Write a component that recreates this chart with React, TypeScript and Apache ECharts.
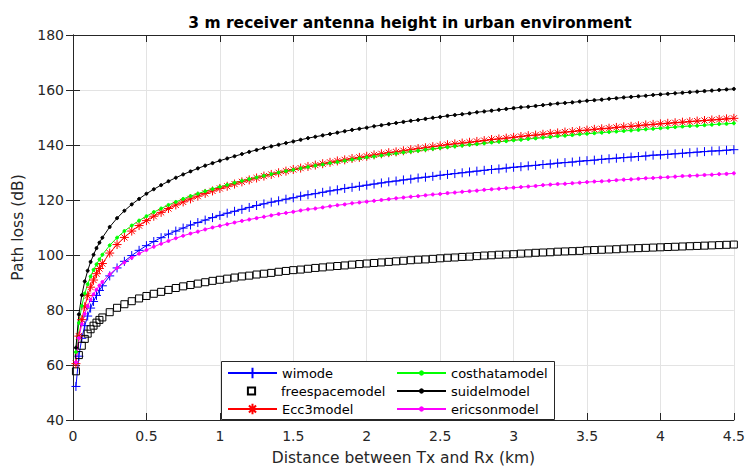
import React, { useEffect, useRef } from "react";
import * as echarts from "echarts";

const distanceKm = [0.02, 0.04, 0.06, 0.08, 0.1, 0.12, 0.14, 0.16, 0.18, 0.2, 0.25, 0.3, 0.35, 0.4, 0.45,
  0.5, 0.55, 0.6, 0.65, 0.7, 0.75, 0.8, 0.85, 0.9, 0.95, 1.0,
  1.05, 1.1, 1.15, 1.2, 1.25, 1.3, 1.35, 1.4, 1.45, 1.5,
  1.55, 1.6, 1.65, 1.7, 1.75, 1.8, 1.85, 1.9, 1.95, 2.0,
  2.05, 2.1, 2.15, 2.2, 2.25, 2.3, 2.35, 2.4, 2.45, 2.5,
  2.55, 2.6, 2.65, 2.7, 2.75, 2.8, 2.85, 2.9, 2.95, 3.0,
  3.05, 3.1, 3.15, 3.2, 3.25, 3.3, 3.35, 3.4, 3.45, 3.5,
  3.55, 3.6, 3.65, 3.7, 3.75, 3.8, 3.85, 3.9, 3.95, 4.0,
  4.05, 4.1, 4.15, 4.2, 4.25, 4.3, 4.35, 4.4, 4.45, 4.5];

const wimode = [52.2, 63.2, 69.7, 74.3, 77.8, 80.7, 83.1, 85.3, 87.1, 88.8, 92.4, 95.3, 97.7, 99.8, 101.7,
  103.4, 104.9, 106.3, 107.6, 108.7, 109.8, 110.9, 111.8, 112.7, 113.6, 114.4,
  115.2, 115.9, 116.6, 117.3, 118.0, 118.6, 119.2, 119.7, 120.3, 120.8,
  121.4, 121.9, 122.3, 122.8, 123.3, 123.7, 124.2, 124.6, 125.0, 125.4,
  125.8, 126.2, 126.6, 126.9, 127.3, 127.6, 128.0, 128.3, 128.6, 129.0,
  129.3, 129.6, 129.9, 130.2, 130.5, 130.8, 131.1, 131.3, 131.6, 131.9,
  132.1, 132.4, 132.6, 132.9, 133.1, 133.4, 133.6, 133.8, 134.1, 134.3,
  134.5, 134.8, 135.0, 135.2, 135.4, 135.6, 135.8, 136.0, 136.3, 136.4,
  136.6, 136.8, 137.0, 137.2, 137.4, 137.6, 137.8, 137.9, 138.1, 138.3];

const freespacemodel = [57.7, 63.6, 67.0, 69.5, 71.4, 73.0, 74.3, 75.4, 76.4, 77.3, 79.2, 80.8, 82.1, 83.2, 84.2,
  85.1, 85.9, 86.6, 87.3, 88.0, 88.6, 89.1, 89.6, 90.1, 90.6, 91.0,
  91.4, 91.8, 92.2, 92.5, 92.9, 93.2, 93.5, 93.9, 94.2, 94.5,
  94.7, 95.0, 95.3, 95.5, 95.8, 96.0, 96.2, 96.5, 96.7, 96.9,
  97.1, 97.3, 97.5, 97.7, 97.9, 98.1, 98.3, 98.4, 98.6, 98.8,
  99.0, 99.1, 99.3, 99.4, 99.6, 99.8, 99.9, 100.1, 100.2, 100.3,
  100.5, 100.6, 100.8, 100.9, 101.0, 101.2, 101.3, 101.4, 101.5, 101.7,
  101.8, 101.9, 102.0, 102.1, 102.3, 102.4, 102.5, 102.6, 102.7, 102.8,
  102.9, 103.0, 103.1, 103.2, 103.3, 103.4, 103.5, 103.6, 103.7, 103.8];

const ecc3model = [60.5, 70.5, 76.5, 81.2, 85.2, 88.3, 90.9, 93.2, 95.1, 96.9, 100.7, 103.8, 106.4, 108.7, 110.7,
  112.5, 114.1, 115.5, 116.9, 118.2, 119.3, 120.4, 121.4, 122.4, 123.3, 124.2,
  125.0, 125.8, 126.6, 127.3, 128.0, 128.7, 129.3, 129.9, 130.5, 131.1,
  131.6, 132.2, 132.7, 133.2, 133.7, 134.2, 134.6, 135.1, 135.5, 135.9,
  136.4, 136.8, 137.2, 137.5, 137.9, 138.3, 138.7, 139.0, 139.4, 139.7,
  140.1, 140.4, 140.7, 141.0, 141.3, 141.6, 142.0, 142.2, 142.5, 142.8,
  143.1, 143.4, 143.6, 143.9, 144.2, 144.4, 144.7, 144.9, 145.2, 145.4,
  145.7, 145.9, 146.1, 146.4, 146.6, 146.8, 147.0, 147.3, 147.5, 147.7,
  147.9, 148.1, 148.3, 148.5, 148.7, 148.9, 149.1, 149.3, 149.5, 149.7];

const costhatamodel = [64.7, 75.3, 81.5, 86.0, 89.4, 92.2, 94.6, 96.6, 98.4, 100.1, 103.5, 106.3, 108.7, 110.7, 112.5,
  114.1, 115.6, 116.9, 118.2, 119.3, 120.4, 121.4, 122.3, 123.2, 124.0, 124.8,
  125.5, 126.3, 127.0, 127.6, 128.2, 128.8, 129.4, 130.0, 130.5, 131.0,
  131.5, 132.0, 132.5, 132.9, 133.4, 133.8, 134.3, 134.7, 135.1, 135.5,
  135.8, 136.2, 136.6, 136.9, 137.3, 137.6, 137.9, 138.3, 138.6, 138.9,
  139.2, 139.5, 139.8, 140.1, 140.3, 140.6, 140.9, 141.2, 141.4, 141.7,
  141.9, 142.2, 142.4, 142.7, 142.9, 143.2, 143.4, 143.6, 143.9, 144.1,
  144.3, 144.5, 144.7, 144.9, 145.1, 145.3, 145.5, 145.7, 145.9, 146.1,
  146.3, 146.5, 146.7, 146.9, 147.0, 147.2, 147.4, 147.6, 147.7, 147.9];

const suidelmodel = [66.3, 78.4, 85.4, 90.4, 94.3, 97.5, 100.1, 102.5, 104.5, 106.3, 110.2, 113.4, 116.1, 118.4, 120.4,
  122.3, 123.9, 125.4, 126.8, 128.1, 129.3, 130.4, 131.5, 132.5, 133.4, 134.3,
  135.1, 135.9, 136.7, 137.5, 138.2, 138.9, 139.5, 140.1, 140.7, 141.3,
  141.9, 142.5, 143.0, 143.5, 144.0, 144.5, 145.0, 145.5, 145.9, 146.3,
  146.8, 147.2, 147.6, 148.0, 148.4, 148.8, 149.1, 149.5, 149.9, 150.2,
  150.6, 150.9, 151.2, 151.5, 151.9, 152.2, 152.5, 152.8, 153.1, 153.4,
  153.7, 153.9, 154.2, 154.5, 154.8, 155.1, 155.3, 155.5, 155.8, 156.1,
  156.3, 156.5, 156.8, 157.0, 157.3, 157.5, 157.7, 157.9, 158.2, 158.4,
  158.6, 158.8, 159.0, 159.2, 159.4, 159.6, 159.8, 160.0, 160.2, 160.4];

const ericsonmodel = [61.0, 69.8, 74.9, 78.6, 81.4, 83.7, 85.7, 87.4, 88.9, 90.2, 93.0, 95.3, 97.3, 99.0, 100.5,
  101.8, 103.0, 104.1, 105.1, 106.1, 107.0, 107.8, 108.5, 109.3, 110.0, 110.6,
  111.2, 111.8, 112.4, 112.9, 113.4, 113.9, 114.4, 114.9, 115.3, 115.7,
  116.2, 116.6, 116.9, 117.3, 117.7, 118.1, 118.4, 118.8, 119.1, 119.4,
  119.7, 120.0, 120.3, 120.6, 120.9, 121.2, 121.4, 121.7, 122.0, 122.2,
  122.5, 122.7, 123.0, 123.2, 123.4, 123.7, 123.9, 124.1, 124.3, 124.5,
  124.7, 124.9, 125.1, 125.4, 125.6, 125.8, 125.9, 126.1, 126.3, 126.5,
  126.7, 126.8, 127.0, 127.2, 127.4, 127.5, 127.7, 127.9, 128.0, 128.2,
  128.3, 128.5, 128.7, 128.8, 128.9, 129.1, 129.2, 129.4, 129.5, 129.7];

const seriesNames = ["wimode", "freespacemodel", "Ecc3model", "costhatamodel", "suidelmodel", "ericsonmodel"];
const titleText = "3 m receiver antenna height in urban environment";
const xName = "Distance between Tx and Rx (km)";
const yName = "Path loss (dB)";

const FONT = "'DejaVu Sans', Verdana, sans-serif";
const AXIS_COLOR = "#262626";

const PLUS = "path://M5,0L5,10M0,5L10,5";
const STAR = "path://M5,0L5,10M0,5L10,5M1.6,1.6L8.4,8.4M1.6,8.4L8.4,1.6";
const SQUARE = "path://M0,0L10,0L10,10L0,10Z";

function zip(ys: number[]) {
  return distanceKm.map((x, i) => [x, ys[i]]);
}

export default function App() {
  const ref = useRef<HTMLDivElement>(null);
  useEffect(() => {
    if (!ref.current) return;
    const chart = echarts.init(ref.current, null, { renderer: "svg" });
    const strokeAxis = {
      axisLine: { show: true, lineStyle: { color: AXIS_COLOR, width: 1 } },
      axisTick: { show: true, inside: true, length: 7, lineStyle: { color: AXIS_COLOR } },
    };
    const mk = (name: string, data: number[], color: string, symbol: string, size: number, opts: any = {}) => ({
      name,
      type: "line",
      data: zip(data),
      symbol,
      symbolSize: size,
      showAllSymbol: true,
      lineStyle: { color, width: 1 },
      itemStyle: { color, borderColor: color, borderWidth: 1 },
      ...opts,
    });
    const legendText = { fontFamily: FONT, fontSize: 13, color: "#000", lineHeight: 18, height: 18 };
    const legendRowTop = [364, 382, 400];
    const oneLegend = (name: string, left: number, top: number, itemHeight: number) => ({
      z: 60,
      orient: "vertical",
      left,
      top,
      padding: 0,
      itemGap: 0,
      itemWidth: 49,
      itemHeight,
      data: [name],
      textStyle: legendText,
    });
    chart.setOption({
      animation: false,
      backgroundColor: "#ffffff",
      textStyle: { fontFamily: FONT },
      title: {
        text: titleText,
        left: 405,
        top: 10,
        textAlign: "center",
        textStyle: { fontFamily: FONT, fontSize: 15.5, fontWeight: "bold", color: "#000" },
      },
      grid: { left: 73, top: 35, right: 12, bottom: 48, containLabel: false },
      xAxis: [
        {
          type: "value",
          min: 0,
          max: 4.5,
          interval: 0.5,
          position: "bottom",
          name: xName,
          nameLocation: "middle",
          nameGap: 30,
          nameTextStyle: { fontFamily: FONT, fontSize: 15.5, color: AXIS_COLOR },
          axisLabel: { fontFamily: FONT, fontSize: 14, color: AXIS_COLOR, margin: 9 },
          splitLine: { show: true, lineStyle: { color: "#e3e3e3", width: 1 } },
          ...strokeAxis,
        },
        {
          type: "value",
          min: 0,
          max: 4.5,
          interval: 0.5,
          position: "top",
          axisLabel: { show: false },
          splitLine: { show: false },
          ...strokeAxis,
        },
      ],
      yAxis: [
        {
          type: "value",
          min: 40,
          max: 180,
          interval: 20,
          position: "left",
          name: yName,
          nameLocation: "middle",
          nameGap: 45,
          nameTextStyle: { fontFamily: FONT, fontSize: 15.5, color: AXIS_COLOR },
          axisLabel: { fontFamily: FONT, fontSize: 14, color: AXIS_COLOR, margin: 9 },
          splitLine: { show: true, lineStyle: { color: "#e3e3e3", width: 1 } },
          ...strokeAxis,
        },
        {
          type: "value",
          min: 40,
          max: 180,
          interval: 20,
          position: "right",
          axisLabel: { show: false },
          splitLine: { show: false },
          ...strokeAxis,
        },
      ],
      graphic: [
        {
          type: "rect",
          z: 50,
          shape: { x: 221.5, y: 361.5, width: 333, height: 58 },
          style: { fill: "#ffffff", stroke: AXIS_COLOR, lineWidth: 1 },
        },
      ],
      legend: [
        oneLegend(seriesNames[0], 227, legendRowTop[0], 13),
        oneLegend(seriesNames[1], 227, legendRowTop[1], 9),
        oneLegend(seriesNames[2], 227, legendRowTop[2], 13),
        oneLegend(seriesNames[3], 396, legendRowTop[0], 4),
        oneLegend(seriesNames[4], 396, legendRowTop[1], 4),
        oneLegend(seriesNames[5], 396, legendRowTop[2], 4),
      ],
      series: [
        mk(seriesNames[0], wimode, "#0000ff", PLUS, 9),
        mk(seriesNames[1], freespacemodel, "#000000", SQUARE, 7, {
          lineStyle: { width: 0, color: "#000000" },
          itemStyle: { color: "rgba(0,0,0,0)", borderColor: "#000000", borderWidth: 1 },
        }),
        mk(seriesNames[2], ecc3model, "#ff0000", STAR, 9),
        mk(seriesNames[3], costhatamodel, "#00ff00", "circle", 3),
        mk(seriesNames[4], suidelmodel, "#000000", "circle", 3),
        mk(seriesNames[5], ericsonmodel, "#ff00ff", "circle", 3),
      ],
    });
    return () => chart.dispose();
  }, []);
  return (
    <div
      ref={ref}
      style={{ position: "fixed", left: 0, top: 0, width: 748, height: 471, background: "#fff" }}
    />
  );
}
